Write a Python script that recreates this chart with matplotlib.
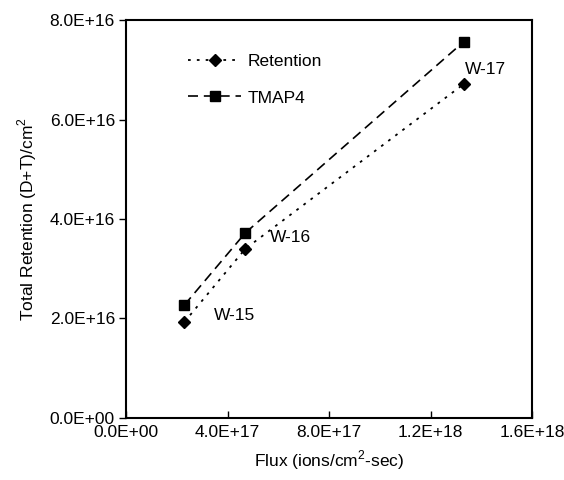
import matplotlib.pyplot as plt

plt.rcParams['font.family'] = ['Liberation Sans', 'DejaVu Sans']
plt.rcParams['mathtext.fontset'] = 'custom'
plt.rcParams['mathtext.rm'] = 'Liberation Sans'

# datos
flux = [2.3e17, 4.7e17, 1.33e18]
retention = [1.93e16, 3.40e16, 6.71e16]
tmap4 = [2.27e16, 3.72e16, 7.56e16]
labels = ['W-15', 'W-16', 'W-17']
label_offsets = [(21, 1.5), (18, 5), (1, 7)]

xticks = [0, 4e17, 8e17, 1.2e18, 1.6e18]
yticks = [0, 2e16, 4e16, 6e16, 8e16]

fig = plt.figure(figsize=(5.64, 4.8), dpi=100)
ax = fig.add_axes([0.2234, 0.1292, 0.72, 0.8291])

ax.plot(flux, retention, color='black', linestyle=(0, (1.5, 3.4)), linewidth=1.3,
        marker='D', markersize=6.5, label='Retention')
ax.plot(flux, tmap4, color='black', linestyle=(0, (6, 3.5)), linewidth=1.2,
        marker='s', markersize=7, label='TMAP4')

for x, y, t, off in zip(flux, retention, labels, label_offsets):
    ax.annotate(t, (x, y), xytext=off, textcoords='offset points', fontsize=12.5)

ax.set_xlim(0, 1.6e18)
ax.set_ylim(0, 8e16)
ax.set_xticks(xticks)
ax.set_yticks(yticks)
ax.set_xticklabels(['0.0E+00', '4.0E+17', '8.0E+17', '1.2E+18', '1.6E+18'], fontsize=12.5)
ax.set_yticklabels(['0.0E+00', '2.0E+16', '4.0E+16', '6.0E+16', '8.0E+16'], fontsize=12.5)
ax.tick_params(axis='x', direction='in', length=5, width=1, pad=5)
ax.tick_params(axis='y', direction='out', length=5, width=1, pad=3)
for s in ax.spines.values():
    s.set_linewidth(1.5)

ax.set_xlabel('Flux (ions/cm$^{2}$-sec)', fontsize=12.5, labelpad=6)
ax.set_ylabel('Total Retention (D+T)/cm$^{2}$', fontsize=12.5, labelpad=8)

ax.legend(loc='upper left', bbox_to_anchor=(0.115, 0.955), frameon=False, fontsize=12.5,
          handlelength=3.05, handletextpad=0.35, labelspacing=1.25)

plt.savefig('out.png')
